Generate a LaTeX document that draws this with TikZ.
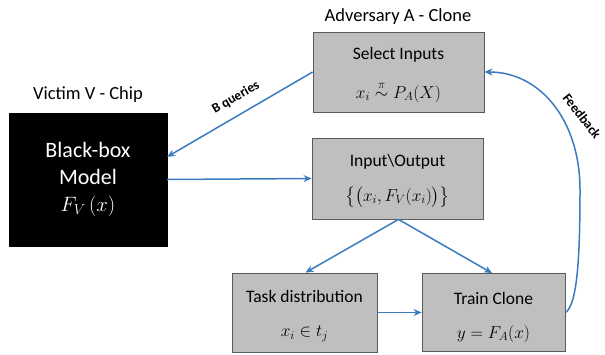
\documentclass[tikz,border=0pt]{standalone}
\usepackage{amsmath}
\usepackage{fontspec}
\setmainfont{Carlito}
\usetikzlibrary{arrows.meta,calc}
\definecolor{arrowblue}{HTML}{3A7BBF}
\definecolor{boxgray}{HTML}{BFBFBF}
\definecolor{boxedge}{HTML}{5A5A5A}
\tikzset{
  graybox/.style={draw=boxedge, fill=boxgray, line width=0.8pt, inner sep=0pt},
  boxtxt/.style={font=\fontsize{17.5}{20}\selectfont, inner sep=1pt},
  boxmath/.style={font=\fontsize{18.5}{21}\selectfont, inner sep=1pt},
  flow/.style={draw=arrowblue, line width=1.5pt, -{Stealth[length=8pt,width=7pt]}},
  hdr/.style={font=\fontsize{18.5}{21}\selectfont},
  lbl/.style={font=\bfseries\fontsize{13.5}{15}\selectfont, text=black, inner sep=1pt}
}
\begin{document}
\begin{tikzpicture}[x=1pt,y=1pt]
\useasboundingbox (0,0) rectangle (605,-354);
% boxes
\node[graybox, minimum width=171pt, minimum height=80pt] (sel) at (398.5,-72) {};
\node[boxtxt] (selT) at (398.5,-55) {Select Inputs};
\node[boxmath] (selM) at (398.5,-92) {$x_i \overset{\pi}{\sim} P_A(X)$};

\node[graybox, minimum width=171pt, minimum height=81pt] (io) at (397.5,-178.5) {};
\node[boxtxt] (ioT) at (397.5,-162) {Input\textbackslash Output};
\node[boxmath] (ioM) at (397.5,-197) {$\big\{\big(x_i, F_V(x_i)\big)\big\}$};

\node[graybox, minimum width=145pt, minimum height=79pt] (task) at (304.5,-312.5) {};
\node[boxtxt] (taskT) at (304.5,-296) {Task distribution};
\node[boxmath] (taskM) at (304.5,-334) {$x_i \in t_j$};

\node[graybox, minimum width=143pt, minimum height=78pt] (train) at (493.5,-312.5) {};
\node[boxtxt] (trainT) at (493.5,-298) {Train Clone};
\node[boxmath] (trainM) at (493.5,-334) {$y = F_A(x)$};

\node[fill=black, draw=black, minimum width=158pt, minimum height=133pt, inner sep=0pt,
  text=white, align=center, font=\fontsize{22}{27}\selectfont] (bb) at (88,-179.5)
  {Black-box\\Model\\$F_V\,(x)$};

% headers
\node[hdr] (advH) at (398,-17) {Adversary A - Clone};
\node[hdr] (vicH) at (88,-95) {Victim V - Chip};

% connectors
\draw[flow] (sel.west) -- node[sloped, above, lbl, pos=0.47, yshift=9pt] {B queries}
  ($(bb.north east)!0.33!(bb.south east)$);
\draw[flow] (bb.east) -- (io.west);
\draw[flow] ([xshift=1pt]io.south) -- ([xshift=1pt]task.north);
\draw[flow] ([xshift=1pt]io.south) -- ([xshift=-1.5pt]train.north);
\draw[flow] (task.east) -- (train.west);
\draw[flow] (train.east) .. controls (578,-305) and (580,-250) .. (580,-190)
  .. controls (580,-120) and (540,-72) .. (sel.east);
\node[lbl, rotate=-52] (fb) at (582,-116) {Feedback};
\end{tikzpicture}
\end{document}
